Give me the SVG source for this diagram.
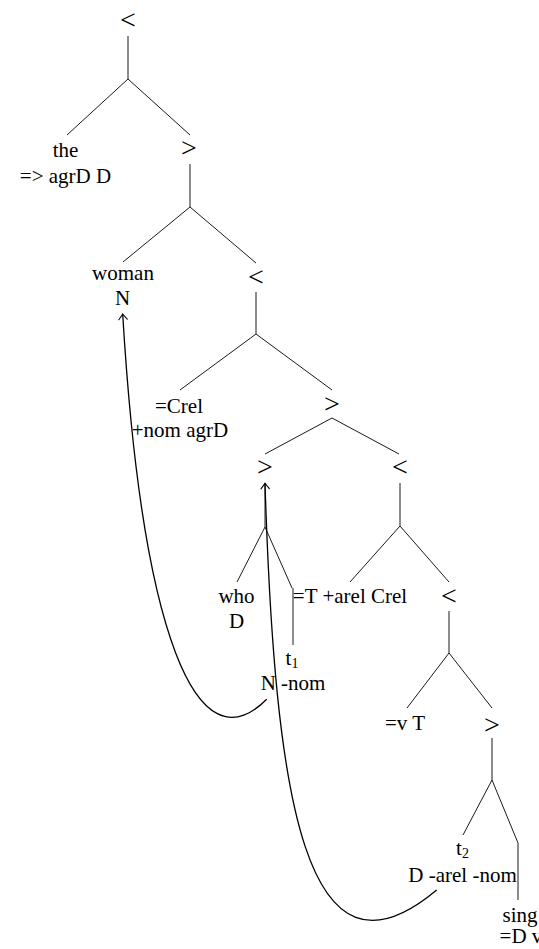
<svg xmlns="http://www.w3.org/2000/svg" width="539" height="949" viewBox="0 0 539 949">
<defs>
<style>
text{font-family:'Liberation Serif','DejaVu Serif',serif;font-size:21px;fill:#000;text-anchor:middle}
.op{font-size:28px}
.e{stroke:#000;stroke-width:0.9;fill:none}
.mv{stroke:#000;stroke-width:1.3;fill:none;marker-end:url(#ah)}
.sub{font-size:14px}
</style>
<marker id="ah" markerUnits="userSpaceOnUse" markerWidth="12" markerHeight="12" viewBox="-7 -6 9 12" refX="0" refY="0" orient="auto">
<path d="M-5.5,-4.2 Q-1.5,-1 0,0 Q-1.5,1 -5.5,4.2" fill="none" stroke="#000" stroke-width="1.1" stroke-linecap="round"/>
</marker>
</defs>
<g id="edges">
<path class="e" d="M128,36V79L67,135M128,79L190,135"/>
<path class="e" d="M190,164V207L123,262M190,207L256,263"/>
<path class="e" d="M256,292V334L180,390M256,334L332,390"/>
<path class="e" d="M332,418L265,454M332,418L399,454"/>
<path class="e" d="M265,483V527L237,582M265,527L292,588M293,588V645"/>
<path class="e" d="M400,483V526L350,582M400,526L449,582"/>
<path class="e" d="M449,611V653L407,708M449,653L492,708"/>
<path class="e" d="M492,738V780L463,835M492,780L518,843M518,843V900"/>
</g>
<g id="n1"><text class="op" x="128" y="29">&lt;</text></g>
<g id="the"><text x="65.5" y="157">the</text><text x="65.5" y="183">=&gt; agrD D</text></g>
<g id="n2"><text class="op" x="189" y="157">&gt;</text></g>
<g id="woman"><text x="123" y="280">woman</text><text x="122.5" y="305">N</text></g>
<g id="n3"><text class="op" x="256" y="286">&lt;</text></g>
<g id="crel"><text x="179" y="413">=Crel</text><text x="180" y="437">+nom agrD</text></g>
<g id="n4"><text class="op" x="332" y="413">&gt;</text></g>
<g id="n5"><text class="op" x="265" y="476">&gt;</text></g>
<g id="who"><text x="236.5" y="603">who</text><text x="236.5" y="628">D</text></g>
<g id="t1"><text x="292" y="665">t<tspan class="sub" dy="3">1</tspan></text><text x="293" y="690">N -nom</text></g>
<g id="n6"><text class="op" x="400" y="476">&lt;</text></g>
<g id="tarel"><text x="350" y="603">=T +arel Crel</text></g>
<g id="n7"><text class="op" x="449" y="605">&lt;</text></g>
<g id="vt"><text x="405" y="730">=v T</text></g>
<g id="n8"><text class="op" x="492" y="734">&gt;</text></g>
<g id="t2"><text x="462.5" y="855">t<tspan class="sub" dy="3">2</tspan></text><text x="462.5" y="882">D -arel -nom</text></g>
<g id="sing"><text x="520" y="922">sing</text><text x="521" y="943">=D v</text></g>
<g id="movement">
<path class="mv" d="M266.7,699.3C196.7,769.3 141.9,634 122.7,314"/>
<path class="mv" d="M436.7,890C305,1000 275,800 265,483.3"/>
</g>
</svg>
